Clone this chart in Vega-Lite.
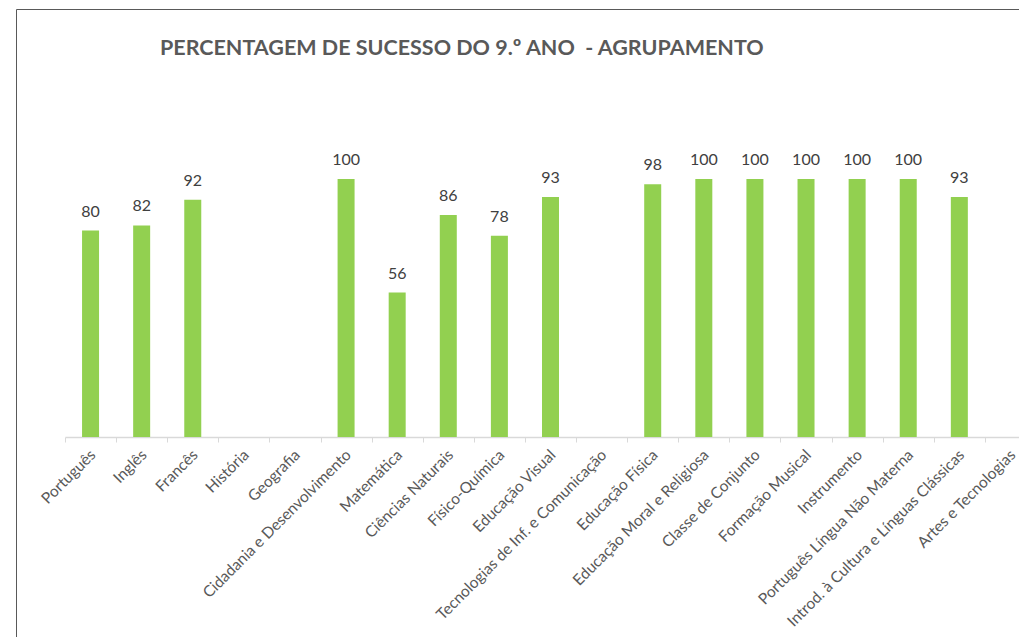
{
  "$schema": "https://vega.github.io/schema/vega-lite/v6.json",
  "width": 1010,
  "height": 640,
  "autosize": {"type": "none"},
  "padding": {"left": 16, "top": 9, "right": -7, "bottom": -12},
  "background": "white",
  "config": {"view": {"stroke": "#595959", "strokeWidth": 1}, "font": "Lato"},
  "title": {
    "text": "PERCENTAGEM DE SUCESSO DO 9.º ANO \u00a0- AGRUPAMENTO",
    "anchor": "start",
    "dx": 144,
    "offset": -67,
    "baseline": "alphabetic",
    "fontSize": 21.5,
    "fontWeight": "bold",
    "color": "#595959",
    "font": "Lato"
  },
  "data": {
    "values": [
      {"disciplina": "Português", "valor": 80},
      {"disciplina": "Inglês", "valor": 82},
      {"disciplina": "Francês", "valor": 92},
      {"disciplina": "História", "valor": null},
      {"disciplina": "Geografia", "valor": null},
      {"disciplina": "Cidadania e Desenvolvimento", "valor": 100},
      {"disciplina": "Matemática", "valor": 56},
      {"disciplina": "Ciências Naturais", "valor": 86},
      {"disciplina": "Físico-Química", "valor": 78},
      {"disciplina": "Educação Visual", "valor": 93},
      {"disciplina": "Tecnologias de Inf. e Comunicação", "valor": null},
      {"disciplina": "Educação Física", "valor": 98},
      {"disciplina": "Educação Moral e Religiosa", "valor": 100},
      {"disciplina": "Classe de Conjunto", "valor": 100},
      {"disciplina": "Formação Musical", "valor": 100},
      {"disciplina": "Instrumento", "valor": 100},
      {"disciplina": "Português Língua Não Materna", "valor": 100},
      {"disciplina": "Introd. à Cultura e Línguas Clássicas", "valor": 93},
      {"disciplina": "Artes e Tecnologias", "valor": null}
    ]
  },
  "encoding": {
    "x": {
      "field": "disciplina",
      "type": "nominal",
      "sort": null,
      "scale": {
        "domain": ["Português", "Inglês", "Francês", "História", "Geografia", "Cidadania e Desenvolvimento", "Matemática", "Ciências Naturais", "Físico-Química", "Educação Visual", "Tecnologias de Inf. e Comunicação", "Educação Física", "Educação Moral e Religiosa", "Classe de Conjunto", "Formação Musical", "Instrumento", "Português Língua Não Materna", "Introd. à Cultura e Línguas Clássicas", "Artes e Tecnologias"],
        "range": [49, 1020],
        "paddingInner": 0,
        "paddingOuter": 0
      },
      "axis": {
        "title": null,
        "labelAngle": -45,
        "labelFontSize": 15.5,
        "labelColor": "#595959",
        "labelFont": "Lato",
        "tickBand": "extent",
        "tickSize": 5,
        "tickColor": "#D9D9D9",
        "domainColor": "#D9D9D9",
        "domainWidth": 1.5,
        "offset": -212,
        "labelPadding": 5,
        "labelOffset": -3,
        "labelLimit": 400,
        "grid": false
      }
    }
  },
  "layer": [
    {
      "mark": {"type": "bar", "size": 17, "color": "#92D050"},
      "encoding": {
        "y": {
          "field": "valor",
          "type": "quantitative",
          "scale": {"domain": [0, 100], "range": [428, 170], "nice": false, "zero": true},
          "axis": null
        }
      }
    },
    {
      "mark": {"type": "text", "baseline": "alphabetic", "dy": -14, "fontSize": 16, "color": "#404040", "font": "Lato"},
      "encoding": {
        "y": {"field": "valor", "type": "quantitative"},
        "text": {"field": "valor", "type": "quantitative"}
      }
    }
  ]
}
